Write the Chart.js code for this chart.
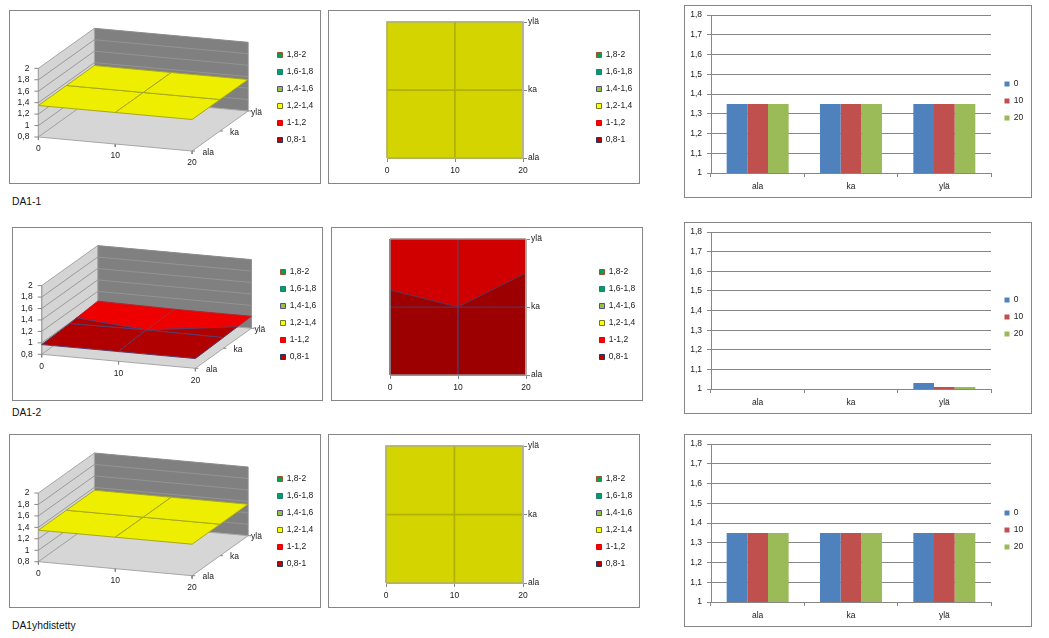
<!DOCTYPE html>
<html><head><meta charset="utf-8">
<style>
html,body{margin:0;padding:0;background:#fff;width:1049px;height:638px;overflow:hidden;font-family:"Liberation Sans",sans-serif}
.frame{position:absolute;box-sizing:border-box;border:1px solid #868686;background:#fff}
.frame canvas{position:absolute;left:-1px;top:-1px}
.cap{position:absolute;left:12px;font-size:10.3px;line-height:12px;color:#111}
</style>
<script src="https://cdn.jsdelivr.net/npm/chart.js@4/dist/chart.umd.min.js"></script>
</head><body>
<div class="cap" style="top:196px">DA1-1</div>
<div class="cap" style="top:407px">DA1-2</div>
<div class="cap" style="top:620px">DA1yhdistetty</div>
<script>
// ---------- data ----------
const xValues = [0, 10, 20];
const rowLabels = ['ala', 'ka', 'ylä'];
const valueTicks = [0.8, 1, 1.2, 1.4, 1.6, 1.8, 2];
const bandLabels = ['1,8-2', '1,6-1,8', '1,4-1,6', '1,2-1,4', '1-1,2', '0,8-1'];
const bandLow  = [1.8, 1.6, 1.4, 1.2, 1.0, 0.8];
const bandHigh = [2.0, 1.8, 1.6, 1.4, 1.2, 1.0];

const da11Ala = [1.35, 1.35, 1.35];
const da11Ka  = [1.35, 1.35, 1.35];
const da11Yla = [1.35, 1.35, 1.35];

const da12Ala = [0.97, 0.97, 0.97];
const da12Ka  = [0.99, 1.00, 0.99];
const da12Yla = [1.03, 1.01, 1.01];

const da1yAla = [1.35, 1.35, 1.35];
const da1yKa  = [1.35, 1.35, 1.35];
const da1yYla = [1.35, 1.35, 1.35];

// ---------- styles ----------
const FONT = {family: '"Liberation Sans", sans-serif', size: 8.5};
const TXT = '#1a1a1a';
const legendFill   = ['#00a050', '#00a060', '#8cc63f', '#ffff00', '#ff0000', '#c00000'];
const legendBorder = ['#a0522d', '#1f7a7a', '#5f4b8b', '#6b7a1e', '#e00000', '#1f3864'];
const fill3d = ['#00a050', '#00a060', '#8cc63f', '#eeee00', '#ee0000', '#b00000'];
const fill2d = ['#008a44', '#008a52', '#78aa36', '#d4d400', '#d00000', '#9c0000'];
const line3d = ['#666', '#666', '#666', '#a8a820', '#b8242c', '#5a3a6a'];
const line2d = ['#666', '#666', '#666', '#b0b000', '#8a2a3a', '#603050'];
const width2d = [1, 1, 1, 1.5, 1, 1];
const seriesColors = ['#4f81bd', '#c0504d', '#9bbb59'];

Chart.defaults.animation = false;
Chart.defaults.font.family = FONT.family;
Chart.defaults.font.size = FONT.size;
Chart.defaults.color = TXT;

const fmt = v => String(+(+v).toFixed(1)).replace('.', ',');

function placeFrame(left, top, w, h) {
  const d = document.createElement('div');
  d.className = 'frame';
  d.style.cssText = `left:${left}px;top:${top}px;width:${w}px;height:${h}px`;
  const c = document.createElement('canvas');
  c.width = w; c.height = h;
  c.style.width = w + 'px'; c.style.height = h + 'px';
  d.appendChild(c);
  document.body.appendChild(d);
  return c;
}

const legendPlacer = (x, y) => ({
  id: 'legendPlacer',
  afterLayout(chart) {
    const l = chart.legend, p = l.options.labels.padding;
    l.left = x - p; l.top = y - p;
    l.right = l.left + l.width; l.bottom = l.top + l.height;
  }
});

function legendOptions(box, pad) {
  return {
    display: true, position: 'chartArea', align: 'start',
    labels: {
      boxWidth: box, boxHeight: box, padding: pad, color: TXT, font: FONT,
      filter: item => item.text !== undefined && item.text !== ''
    }
  };
}

function bandLegendSets() {
  return bandLabels.map((t, i) => ({
    label: t, data: [], showLine: false,
    backgroundColor: legendFill[i], borderColor: legendBorder[i], borderWidth: 1
  }));
}

// Clip one grid cell to a value band (each cell edge interpolates linearly)
function clipCell(poly, lo, hi) {
  const cut = (pts, inside, lim) => {
    const out = [];
    pts.forEach((a, i) => {
      const b = pts[(i + 1) % pts.length];
      const ai = inside(a), bi = inside(b);
      if (ai) out.push(a);
      if (ai !== bi) {
        const t = (lim - a.v) / (b.v - a.v);
        out.push({x: a.x + t * (b.x - a.x), k: a.k + t * (b.k - a.k), v: lim});
      }
    });
    return out;
  };
  let r = cut(poly, p => p.v >= lo, lo);
  if (r.length) r = cut(r, p => p.v <= hi, hi);
  return r;
}

function surfaceSets(rows, project, fills, lines, widths) {
  const sets = [];
  for (let k = 0; k < rows.length - 1; k++) {
    for (let i = 0; i < xValues.length - 1; i++) {
      const cell = [
        {x: xValues[i],     k,        v: rows[k][i]},
        {x: xValues[i + 1], k,        v: rows[k][i + 1]},
        {x: xValues[i + 1], k: k + 1, v: rows[k + 1][i + 1]},
        {x: xValues[i],     k: k + 1, v: rows[k + 1][i]}
      ];
      bandLow.forEach((lo, b) => {
        const poly = clipCell(cell, lo, bandHigh[b]);
        if (poly.length < 3) return;
        const pts = poly.map(project);
        pts.push(pts[0]);
        sets.push({
          data: pts, showLine: true, pointRadius: 0, tension: 0, clip: false,
          fill: 'shape', backgroundColor: fills[b], borderColor: lines[b],
          borderWidth: widths ? widths[b] : 1
        });
      });
    }
  }
  return sets;
}

// ---------- 3D surface ----------
function surface3D(left, top, w, h, rows, ox, oy) {
  const canvas = placeFrame(left, top, w, h);
  const P = p => ({
    x: ox + p.x / 20 * 153.7 + p.k / 2 * 56,
    y: oy + p.x / 20 * 14 - p.k / 2 * 40 - (p.v - 0.8) / 1.2 * 68.7
  });
  const poly = (pts, fill, stroke) => {
    const d = pts.map(P); d.push(d[0]);
    return {data: d, showLine: true, pointRadius: 0, tension: 0, clip: false,
      fill: 'shape', backgroundColor: fill, borderColor: stroke, borderWidth: 1};
  };
  const seg = (a, b, c, dx, dy) => {
    const A = P(a), B = P(b);
    return {data: [A, {x: B.x + (dx || 0), y: B.y + (dy || 0)}], showLine: true, pointRadius: 0,
      clip: false, borderColor: c, borderWidth: 1};
  };
  const vMin = valueTicks[0], vMax = valueTicks[valueTicks.length - 1];
  const sets = [];
  sets.push(poly([{x:0,k:2,v:vMin},{x:20,k:2,v:vMin},{x:20,k:2,v:vMax},{x:0,k:2,v:vMax}], '#808080', '#8c8c8c'));
  sets.push(poly([{x:0,k:0,v:vMin},{x:0,k:2,v:vMin},{x:0,k:2,v:vMax},{x:0,k:0,v:vMax}], '#d4d4d4', '#a6a6a6'));
  sets.push(poly([{x:0,k:0,v:vMin},{x:20,k:0,v:vMin},{x:20,k:2,v:vMin},{x:0,k:2,v:vMin}], '#d6d6d6', '#a6a6a6'));
  valueTicks.slice(1, -1).forEach(v => {
    sets.push(seg({x:0,k:0,v}, {x:0,k:2,v}, '#9a9a9a'));
    sets.push(seg({x:0,k:2,v}, {x:20,k:2,v}, '#949494'));
  });
  valueTicks.forEach(v => sets.push(seg({x:0,k:0,v}, {x:0,k:0,v}, '#868686', -4, 0)));
  xValues.forEach(x => sets.push(seg({x,k:0,v:vMin}, {x,k:0,v:vMin}, '#868686', 0, 3)));
  rowLabels.forEach((_, k) => sets.push(seg({x:20,k,v:vMin}, {x:20,k,v:vMin}, '#868686', 3, 0)));
  sets.push(...surfaceSets(rows, P, fill3d, line3d));
  const labelPlugin = {
    id: 'axisText',
    afterDatasetsDraw(chart) {
      const c = chart.ctx;
      c.save();
      c.font = `${FONT.size}px ${FONT.family}`;
      c.fillStyle = TXT;
      c.textBaseline = 'middle';
      c.textAlign = 'right';
      valueTicks.forEach(v => { const p = P({x:0,k:0,v}); c.fillText(fmt(v), p.x - 9, p.y); });
      c.textAlign = 'center';
      xValues.forEach(x => { const p = P({x,k:0,v:vMin}); c.fillText(String(x), p.x, p.y + 12); });
      c.textAlign = 'left';
      const dx = [10.5, 10, 3];
      rowLabels.forEach((t, k) => { const p = P({x:20,k,v:vMin}); c.fillText(t, p.x + dx[k], p.y + 1.2); });
      c.restore();
    }
  };
  new Chart(canvas, {
    type: 'scatter',
    data: {datasets: [...bandLegendSets(), ...sets.reverse()]},
    options: {
      responsive: false, events: [],
      layout: {padding: 0},
      scales: {
        x: {type: 'linear', display: false, min: 0, max: w},
        y: {type: 'linear', display: false, min: 0, max: h, reverse: true}
      },
      plugins: {legend: legendOptions(5, 8.5), tooltip: {enabled: false}}
    },
    plugins: [legendPlacer(268.5, 40.75), labelPlugin]
  });
}

// ---------- top view contour ----------
function surface2D(left, top, w, h, rows, L, R, T, B) {
  const canvas = placeFrame(left, top, w, h);
  const sets = surfaceSets(rows, p => ({x: p.x, y: p.k}), fill2d, line2d, width2d);
  const x0 = xValues[0], x1 = xValues[xValues.length - 1], k1 = rowLabels.length - 1;
  sets.push({
    data: [{x: x0, y: 0}, {x: x0, y: k1}, {x: x1, y: k1}, {x: x1, y: 0}, {x: x0, y: 0}],
    showLine: true, pointRadius: 0, tension: 0, clip: false, fill: false,
    borderColor: '#b4b4a8', borderWidth: 1
  });
  new Chart(canvas, {
    type: 'scatter',
    data: {datasets: [...bandLegendSets(), ...sets.reverse()]},
    options: {
      responsive: false, events: [],
      layout: {padding: {left: L, top: T, right: 0, bottom: 0}},
      scales: {
        x: {
          type: 'linear', min: xValues[0], max: xValues[2], position: 'bottom',
          afterFit(s) { s.height = h - B; },
          grid: {drawOnChartArea: false, tickLength: 4, color: '#868686'},
          border: {color: '#a8a8a8'},
          ticks: {stepSize: 10, color: TXT, font: FONT, padding: 4, maxRotation: 0}
        },
        y: {
          type: 'linear', min: 0, max: 2, position: 'right',
          afterFit(s) { s.width = w - R; },
          grid: {drawOnChartArea: false, tickLength: 4, color: '#868686'},
          border: {color: '#a8a8a8'},
          ticks: {stepSize: 1, color: TXT, font: FONT, padding: 1, callback: v => rowLabels[v]}
        }
      },
      plugins: {legend: legendOptions(5, 8.5), tooltip: {enabled: false}}
    },
    plugins: [legendPlacer(268.5, 40.75)]
  });
}

// ---------- clustered bars ----------
function bars(left, top, w, h, rows, L, R, T, B, legendY) {
  const canvas = placeFrame(left, top, w, h);
  const datasets = xValues.map((x, i) => ({
    label: String(x),
    data: rows.map(r => r[i]),
    backgroundColor: seriesColors[i],
    borderWidth: 0,
    categoryPercentage: 0.664,
    barPercentage: 1
  }));
  new Chart(canvas, {
    type: 'bar',
    data: {labels: rowLabels, datasets},
    options: {
      responsive: false, events: [],
      layout: {padding: {left: 0, top: T, right: w - R, bottom: 0}},
      scales: {
        x: {
          afterFit(s) { s.height = h - B; },
          grid: {drawOnChartArea: false, tickLength: 4, color: '#868686', offset: true},
          border: {color: '#868686'},
          ticks: {color: TXT, font: FONT, padding: 5, maxRotation: 0}
        },
        y: {
          min: 1, max: 1.8,
          afterFit(s) { s.width = L; },
          grid: {tickLength: 4, color: '#868686', z: 0},
          border: {color: '#868686'},
          ticks: {stepSize: 0.1, color: TXT, font: FONT, padding: 5, callback: v => fmt(v)}
        }
      },
      plugins: {legend: legendOptions(5, 8.5), tooltip: {enabled: false}}
    },
    plugins: [legendPlacer(320.5, legendY)]
  });
}

const rows1 = [da11Ala, da11Ka, da11Yla];
const rows2 = [da12Ala, da12Ka, da12Yla];
const rows3 = [da1yAla, da1yKa, da1yYla];

surface3D(9, 10, 312, 174, rows1, 29.4, 127);
surface3D(12, 227, 311, 174, rows2, 29.7, 127.3);
surface3D(9, 434, 312, 174, rows3, 29.4, 127.7);

surface2D(328, 10, 312, 174, rows1, 59, 195, 12, 148);
surface2D(331, 227, 312, 174, rows2, 59, 195, 12, 148);
surface2D(328, 434, 312, 174, rows3, 58, 195, 12, 149);

bars(684, 5, 348, 193, rows1, 27, 307, 10, 168, 74.75);
bars(684, 222, 348, 192, rows2, 27, 307, 10, 167, 73.75);
bars(684, 434, 348, 193, rows3, 27, 307, 10, 168, 74.75);
</script>
</body></html>
